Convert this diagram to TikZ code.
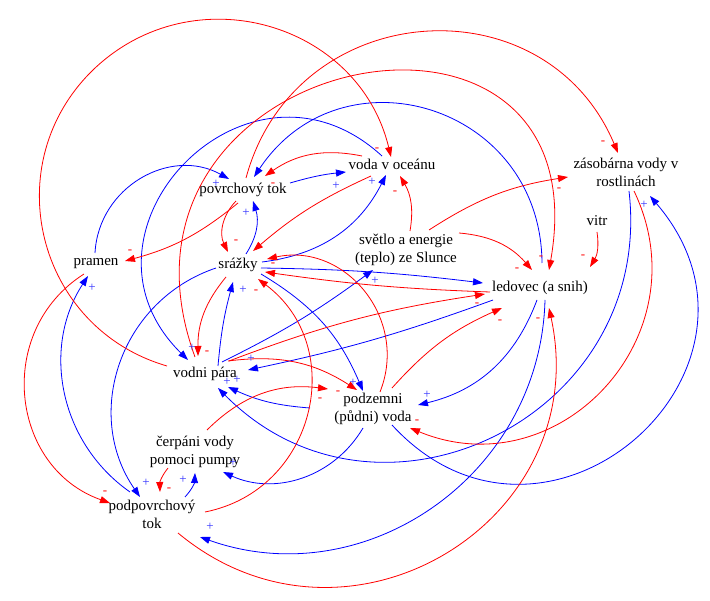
\documentclass[tikz,border=0pt]{standalone}
\usepackage{fontspec}
\setmainfont{Liberation Serif}
\usetikzlibrary{arrows.meta}
\definecolor{linkred}{RGB}{255,0,0}
\definecolor{linkblue}{RGB}{0,0,255}
\definecolor{signblue}{RGB}{50,50,255}

\begin{document}
\begin{tikzpicture}[x=1pt,y=-1pt,
  var/.style={inner sep=1pt,align=center,font=\fontsize{15}{18}\selectfont},
  poslink/.style={draw=linkblue,line width=0.8pt,-{Triangle[length=10pt,width=7pt]}},
  neglink/.style={draw=linkred,line width=0.8pt,-{Triangle[length=10pt,width=7pt]}},
  psign/.style={text=signblue,inner sep=0pt,font=\fontsize{13}{13}\selectfont},
  nsign/.style={text=linkred,inner sep=0pt,font=\fontsize{13}{13}\selectfont}]
\useasboundingbox (0,0) rectangle (710,601);

% variables
\node[var] (pov) at (243,190) {povrchový tok};
\node[var] (ocean) at (392,164) {voda v oceánu};
\node[var] (rostl) at (626,172) {zásobárna vody v\\rostlinách};
\node[var] (pramen) at (96,264) {pramen};
\node[var] (srazky) at (238,265) {srážky};
\node[var] (slunce) at (406,250) {světlo a energie\\(teplo) ze Slunce};
\node[var] (vitr) at (597,221) {vitr};
\node[var] (ledovec) at (540,288) {ledovec (a snih)};
\node[var] (para) at (205,374) {vodni pára};
\node[var] (podzem) at (373,409) {podzemni\\(půdni) voda};
\node[var] (pumpa) at (195,452) {čerpáni vody\\pomoci pumpy};
\node[var] (podpov) at (152,514) {podpovrchový\\tok};
\coordinate (parabend) at (94,69);

% positive links
\draw[poslink] ([shift={(-1,-11)}]pramen.center) to[bend left=58,looseness=1.11] ([shift={(-14,-11)}]pov.center);
\draw[poslink] ([shift={(2,-25)}]ledovec.center) to[bend right=73,looseness=1.35] ([shift={(11,-13)}]pov.center);
\draw[poslink] ([shift={(47,-7)}]pov.center) to[bend left=5] ([shift={(-46,8)}]ocean.center);
\draw[poslink] ([shift={(8,-11)}]srazky.center) to[bend right=25] ([shift={(10,11)}]pov.center);
\draw[poslink] ([shift={(24,-3)}]srazky.center) to[bend right=28] ([shift={(-6,11)}]ocean.center);
\draw[poslink] ([shift={(23,3)}]srazky.center) to[bend left=3] ([shift={(-57,-5)}]ledovec.center);
\draw[poslink] ([shift={(-47,12)}]ledovec.center) to[bend left=4] ([shift={(43,-4)}]para.center);
\draw[poslink] ([shift={(17,-12)}]para.center) to[bend right=5] ([shift={(-33,20)}]slunce.center);
\draw[poslink] ([shift={(13,-8)}]para.center) to[bend left=5] ([shift={(-5,17)}]srazky.center);
\draw[poslink] ([shift={(-10,-8)}]ocean.center) to[bend right=89,looseness=1.66] ([shift={(-17,-14)}]para.center);
\draw[poslink] ([shift={(-22,3)}]srazky.center) to[bend right=53,looseness=1.07] ([shift={(-12,-17)}]podpov.center);
\draw[poslink] ([shift={(-22,-22)}]podpov.center) to[bend left=44] ([shift={(-8,12)}]pramen.center);
\draw[poslink] ([shift={(23,9)}]srazky.center) to[bend left=18] ([shift={(-10,-18)}]podzem.center);
\draw[poslink] ([shift={(-63,-1)}]podzem.center) to[bend left=10] ([shift={(23,13)}]para.center);
\draw[poslink] ([shift={(3,19)}]rostl.center) to[bend left=71,looseness=1.28] ([shift={(13,14)}]para.center);
\draw[poslink] ([shift={(19,16)}]podzem.center) to[bend right=89,looseness=1.69] ([shift={(24,24)}]rostl.center);
\draw[poslink] ([shift={(-3,12)}]ledovec.center) to[bend left=28] ([shift={(45,-4)}]podzem.center);
\draw[poslink] ([shift={(5,12)}]ledovec.center) to[bend left=54,looseness=1.07] ([shift={(48,23)}]podpov.center);
\draw[poslink] ([shift={(33,-17)}]podpov.center) to[bend right=20] ([shift={(0,21)}]pumpa.center);
\draw[poslink] ([shift={(-10,19)}]podzem.center) to[bend left=42] ([shift={(28,20)}]pumpa.center);

% negative links
\draw[neglink] ([shift={(-30,-8)}]ocean.center) to[bend right=23] ([shift={(22,-14)}]pov.center);
\draw[neglink] ([shift={(-7,11)}]pov.center) to[bend right=35] ([shift={(-10,-13)}]srazky.center);
\draw[neglink] ([shift={(-5,13)}]pov.center) to[bend left=12] ([shift={(29,-3)}]pramen.center);
\draw[neglink] ([shift={(-21,12)}]ocean.center) to[bend right=8] ([shift={(15,-14)}]srazky.center);
\draw[neglink] ([shift={(4,-19)}]slunce.center) to[bend right=20] ([shift={(8,12)}]ocean.center);
\draw[neglink] ([shift={(-38,-8)}]para.center) to[bend left=60,looseness=1.14] (parabend)
  to[bend left=60,looseness=1.14] ([shift={(-1,-7)}]ocean.center);
\draw[neglink] ([shift={(3,-12)}]pov.center) to[bend left=71,looseness=1.29] ([shift={(-8,-19)}]rostl.center);
\draw[neglink] ([shift={(-10,-17)}]para.center) to[out=110,in=80,looseness=2.3] ([shift={(9,-18)}]ledovec.center);
\draw[neglink] ([shift={(23,-20)}]slunce.center) to[bend left=12] ([shift={(-58,5)}]rostl.center);
\draw[neglink] ([shift={(53,-17)}]slunce.center) to[bend left=22] ([shift={(-8,-18)}]ledovec.center);
\draw[neglink] ([shift={(0,11)}]vitr.center) to[bend left=20] ([shift={(50,-21)}]ledovec.center);
\draw[neglink] ([shift={(-50,4)}]ledovec.center) to[bend left=3] ([shift={(27,7)}]srazky.center);
\draw[neglink] ([shift={(24,-13)}]para.center) to[bend left=6] ([shift={(-55,6)}]ledovec.center);
\draw[neglink] ([shift={(-12,12)}]srazky.center) to[bend right=20] ([shift={(-7,-18)}]para.center);
\draw[neglink] ([shift={(-12,10)}]pramen.center) to[bend right=64,looseness=1.18] ([shift={(-42,-11)}]podpov.center);
\draw[neglink] ([shift={(23,-13)}]para.center) to[bend left=20] ([shift={(-16,-19)}]podzem.center);
\draw[neglink] ([shift={(12,-22)}]pumpa.center) to[bend left=26] ([shift={(-45,-20)}]podzem.center);
\draw[neglink] ([shift={(8,19)}]rostl.center) to[bend left=69,looseness=1.26] ([shift={(37,19)}]podzem.center);
\draw[neglink] ([shift={(26,19)}]podpov.center) to[bend right=71,looseness=1.29] ([shift={(9,20)}]ledovec.center);
\draw[neglink] ([shift={(53,-2)}]podpov.center) to[bend right=66,looseness=1.21] ([shift={(20,14)}]srazky.center);
\draw[neglink] ([shift={(7,-17)}]podzem.center) to[bend right=62,looseness=1.16] ([shift={(29,-6)}]srazky.center);
\draw[neglink] ([shift={(19,-21)}]podzem.center) to[bend left=12] ([shift={(-38,20)}]ledovec.center);
\draw[neglink] ([shift={(-27,16)}]pumpa.center) to[bend right=20] ([shift={(8,-22)}]podpov.center);

% polarity signs
\node[psign] (p1) at (216,184) {+};
\node[psign] (p2) at (336,186) {+};
\node[psign] (p3) at (246,213) {+};
\node[psign] (p4) at (372,182) {+};
\node[psign] (p5) at (251,359) {+};
\node[psign] (p6) at (375,281) {+};
\node[psign] (p7) at (243,290) {+};
\node[psign] (p8) at (192,348) {+};
\node[psign] (p9) at (146,483) {+};
\node[psign] (p10) at (92,288) {+};
\node[psign] (p11) at (353,383) {+};
\node[psign] (p12) at (237,380) {+};
\node[psign] (p13) at (227,382) {+};
\node[psign] (p14) at (644,205) {+};
\node[psign] (p15) at (427,395) {+};
\node[psign] (p16) at (210,527) {+};
\node[psign] (p17) at (183,480) {+};
\node[psign] (p18) at (233,463) {+};
\node[nsign] (n1) at (273,185) {-};
\node[nsign] (n2) at (236,242) {-};
\node[nsign] (n3) at (130,252) {-};
\node[nsign] (n4) at (395,193) {-};
\node[nsign] (n5) at (377,150) {-};
\node[nsign] (n6) at (603,143) {-};
\node[nsign] (n7) at (541,258) {-};
\node[nsign] (n8) at (559,190) {-};
\node[nsign] (n9) at (517,270) {-};
\node[nsign] (n10) at (583,257) {-};
\node[nsign] (n11) at (477,305) {-};
\node[nsign] (n12) at (207,353) {-};
\node[nsign] (n13) at (105,493) {-};
\node[nsign] (n14) at (338,393) {-};
\node[nsign] (n15) at (320,400) {-};
\node[nsign] (n16) at (417,422) {-};
\node[nsign] (n17) at (538,320) {-};
\node[nsign] (n18) at (256,292) {-};
\node[nsign] (n19) at (273,265) {-};
\node[nsign] (n20) at (500,322) {-};
\node[nsign] (n21) at (169,490) {-};
\end{tikzpicture}
\end{document}
